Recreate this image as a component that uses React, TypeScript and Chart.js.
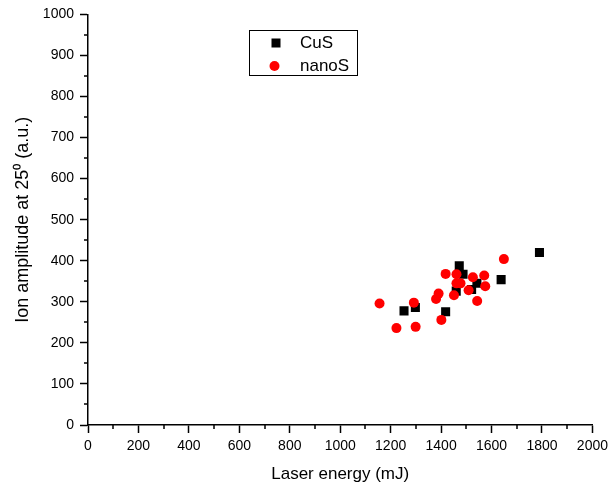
import React, { useEffect, useRef } from "react";
import { Chart, registerables } from "chart.js";

Chart.register(...registerables);

const cusEnergy = [1253, 1298, 1418, 1460, 1472, 1487, 1521, 1542, 1638, 1790];
const cusAmplitude = [278, 286, 276, 326, 388, 367, 330, 345, 354, 420];

const nanoEnergy = [1156, 1223, 1299, 1292, 1380, 1390, 1401, 1418, 1451, 1461, 1461, 1477, 1509, 1526, 1571, 1575, 1543, 1649];
const nanoAmplitude = [296, 236, 239, 298, 307, 320, 256, 368, 316, 367, 345, 345, 328, 360, 364, 338, 302, 404];

const xTicks = [0, 200, 400, 600, 800, 1000, 1200, 1400, 1600, 1800, 2000];
const yTicks = [0, 100, 200, 300, 400, 500, 600, 700, 800, 900, 1000];
const xMinorTicks = [100, 300, 500, 700, 900, 1100, 1300, 1500, 1700, 1900];
const yMinorTicks = [50, 150, 250, 350, 450, 550, 650, 750, 850, 950];

const FONT = "'Liberation Sans', Arial, sans-serif";

const minorTickPlugin = {
  id: "minorTicks",
  afterDraw(chart: any) {
    const { ctx, chartArea, scales } = chart;
    ctx.save();
    ctx.strokeStyle = "#000";
    ctx.lineWidth = 1.5;
    ctx.beginPath();
    xMinorTicks.forEach((v) => {
      const px = Math.round(scales.x.getPixelForValue(v));
      ctx.moveTo(px, chartArea.bottom);
      ctx.lineTo(px, chartArea.bottom + 4);
    });
    yMinorTicks.forEach((v) => {
      const py = Math.round(scales.y.getPixelForValue(v));
      ctx.moveTo(chartArea.left, py);
      ctx.lineTo(chartArea.left - 4, py);
    });
    ctx.stroke();
    ctx.restore();
  },
};

const legendPlugin = {
  id: "boxLegend",
  afterDraw(chart: any) {
    const { ctx } = chart;
    const ds = chart.data.datasets;
    ctx.save();
    ctx.strokeStyle = "#000";
    ctx.lineWidth = 1;
    ctx.strokeRect(249.5, 30.5, 108, 45);
    ctx.font = `17px ${FONT}`;
    ctx.textBaseline = "middle";
    ctx.textAlign = "left";
    const cus = ds.find((d: any) => d.label === "CuS");
    const nano = ds.find((d: any) => d.label === "nanoS");
    ctx.fillStyle = cus.backgroundColor;
    ctx.fillRect(271.5, 38.5, 9, 9);
    ctx.fillStyle = "#000";
    ctx.fillText(cus.label, 300, 43);
    ctx.fillStyle = nano.backgroundColor;
    ctx.beginPath();
    ctx.arc(274.5, 66, 5, 0, Math.PI * 2);
    ctx.fill();
    ctx.fillStyle = "#000";
    ctx.fillText(nano.label, 300, 66);
    ctx.restore();
  },
};

export default function App() {
  const ref = useRef<HTMLCanvasElement>(null);

  useEffect(() => {
    const canvas = ref.current!;
    const chart = new Chart(canvas, {
      type: "scatter",
      data: {
        datasets: [
          {
            label: "CuS",
            data: cusEnergy.map((x, i) => ({ x, y: cusAmplitude[i] })),
            backgroundColor: "#000000",
            borderWidth: 0,
            pointStyle: "rect",
            pointRadius: 6.4,
            order: 1,
          },
          {
            label: "nanoS",
            data: nanoEnergy.map((x, i) => ({ x, y: nanoAmplitude[i] })),
            backgroundColor: "#ff0000",
            borderWidth: 0,
            pointStyle: "circle",
            pointRadius: 5,
            order: 0,
          },
        ],
      },
      options: {
        responsive: false,
        animation: false,
        layout: { padding: { left: 0, right: 19, top: 14, bottom: 0 } },
        plugins: {
          legend: { display: false },
          tooltip: { enabled: false },
        },
        scales: {
          x: {
            type: "linear",
            min: 0,
            max: 2000,
            afterBuildTicks: (s: any) => {
              s.ticks = xTicks.map((v) => ({ value: v }));
            },
            afterFit: (s: any) => {
              s.height = 62;
            },
            ticks: {
              color: "#000",
              font: { family: FONT, size: 14 },
              padding: 5,
              maxRotation: 0,
              autoSkip: false,
              callback: (v: any) => String(v),
            },
            grid: {
              drawOnChartArea: false,
              drawTicks: true,
              tickLength: 8,
              tickColor: "#000",
              tickWidth: 1.5,
            },
            border: { display: true, color: "#000", width: 1.5 },
            title: {
              display: true,
              text: "Laser energy (mJ)",
              color: "#000",
              font: { family: FONT, size: 17 },
              padding: { top: 0, bottom: 2 },
            },
          },
          y: {
            type: "linear",
            min: 0,
            max: 1000,
            afterBuildTicks: (s: any) => {
              s.ticks = yTicks.map((v) => ({ value: v }));
            },
            afterFit: (s: any) => {
              s.width = 88;
            },
            ticks: {
              color: "#000",
              font: { family: FONT, size: 14 },
              padding: 6,
              autoSkip: false,
              callback: (v: any) => String(v),
            },
            grid: {
              drawOnChartArea: false,
              drawTicks: true,
              tickLength: 8,
              tickColor: "#000",
              tickWidth: 1.5,
            },
            border: { display: true, color: "#000", width: 1.5 },
            title: {
              display: true,
              text: "Ion amplitude at 25\u2070 (a.u.)",
              color: "#000",
              font: { family: FONT, size: 18 },
              padding: { top: 12, bottom: 0 },
            },
          },
        },
      },
      plugins: [minorTickPlugin, legendPlugin],
    });
    return () => chart.destroy();
  }, []);

  return (
    <div style={{ position: "fixed", left: 0, top: 0, width: 613, height: 487, background: "#fff" }}>
      <canvas ref={ref} width={613} height={487} />
    </div>
  );
}
